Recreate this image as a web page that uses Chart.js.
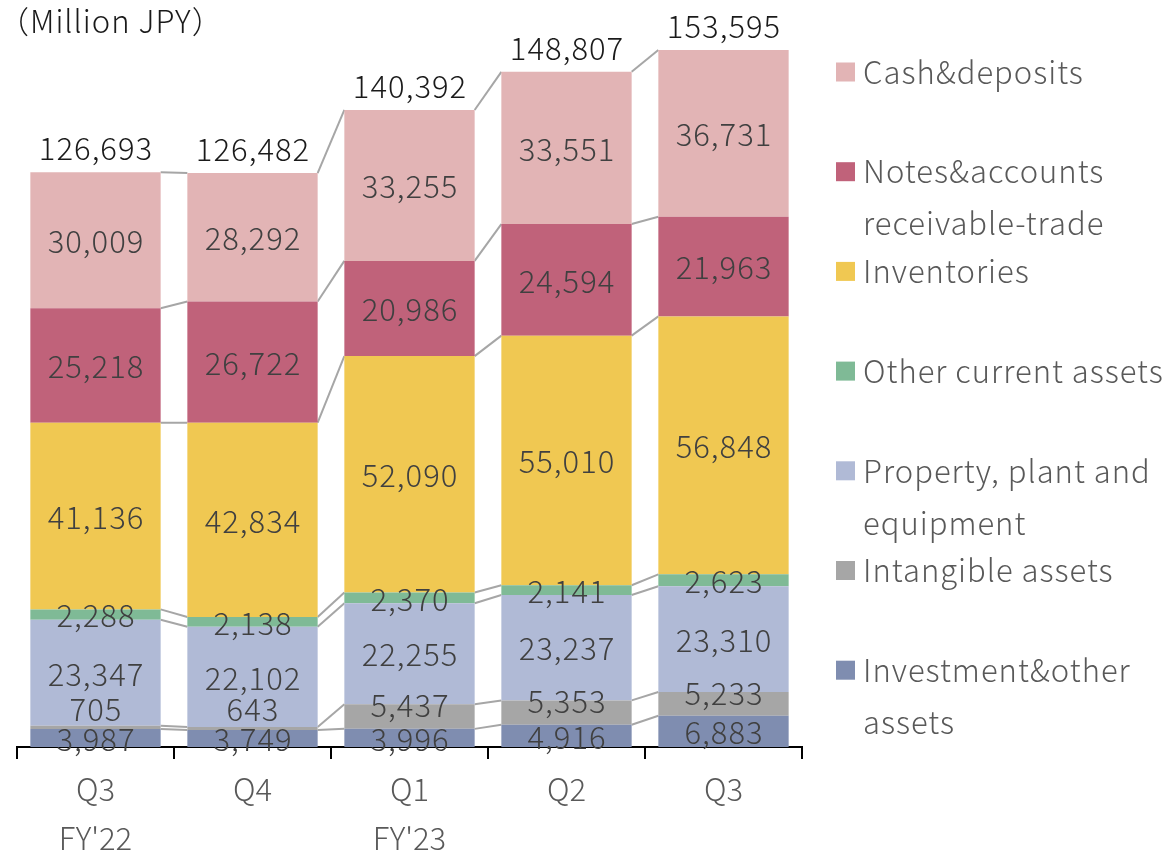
<!DOCTYPE html>
<html><head><meta charset="utf-8">
<script src="https://cdn.jsdelivr.net/npm/chart.js@4"></script>
<style>html,body{margin:0;padding:0;background:#fff}#wrap{width:1170px;height:854px;position:relative}</style>
</head><body><div id="wrap"><canvas id="c" width="1170" height="854"></canvas></div>
<script>
// ---- data ----
const quarters = ['Q3', 'Q4', 'Q1', 'Q2', 'Q3'];
const fiscalYears = ["FY'22", '', "FY'23", '', ''];
const investment = [3987, 3749, 3996, 4916, 6883];
const intangible = [705, 643, 5437, 5353, 5233];
const ppe = [23347, 22102, 22255, 23237, 23310];
const otherCurrent = [2288, 2138, 2370, 2141, 2623];
const inventories = [41136, 42834, 52090, 55010, 56848];
const receivables = [25218, 26722, 20986, 24594, 21963];
const cash = [30009, 28292, 33255, 33551, 36731];
const totals = [126693, 126482, 140392, 148807, 153595];
const unitLabel = '（Million JPY）';
const legendNames = [
  ['Cash&deposits'],
  ['Notes&accounts', 'receivable-trade'],
  ['Inventories'],
  ['Other current assets'],
  ['Property, plant and', 'equipment'],
  ['Intangible assets'],
  ['Investment&other', 'assets']
];

// ---- style ----
const FONT = '"Noto Sans CJK JP", "Noto Sans", sans-serif';
const FW = '300 ';
const colors = {
  investment: '#7F8DB0', intangible: '#A6A6A6', ppe: '#B0BAD6', other: '#7FBA96',
  inventories: '#F0C852', receivables: '#C0627A', cash: '#E2B4B5'
};

const datasets = [
  {label: legendNames[6].join(' '), data: investment, backgroundColor: colors.investment},
  {label: legendNames[5].join(' '), data: intangible, backgroundColor: colors.intangible, labelMode: 'top'},
  {label: legendNames[4].join(' '), data: ppe, backgroundColor: colors.ppe},
  {label: legendNames[3].join(' '), data: otherCurrent, backgroundColor: colors.other},
  {label: legendNames[2].join(' '), data: inventories, backgroundColor: colors.inventories},
  {label: legendNames[1].join(' '), data: receivables, backgroundColor: colors.receivables},
  {label: legendNames[0].join(' '), data: cash, backgroundColor: colors.cash}
].map(d => Object.assign({barPercentage: 0.83, categoryPercentage: 1.0, borderWidth: 0}, d));

const fmt = v => v.toLocaleString('en-US');

const overlay = {
  id: 'overlay',
  beforeDatasetsDraw(chart) {
    const ctx = chart.ctx;
    ctx.save();
    ctx.strokeStyle = '#A6A6A6';
    ctx.lineWidth = 2;
    chart.data.datasets.forEach((ds, d) => {
      const meta = chart.getDatasetMeta(d);
      for (let i = 0; i < meta.data.length - 1; i++) {
        const a = meta.data[i], b = meta.data[i + 1];
        ctx.beginPath();
        ctx.moveTo(a.x + a.width / 2, a.y);
        ctx.lineTo(b.x - b.width / 2, b.y);
        ctx.stroke();
      }
    });
    ctx.restore();
  },
  afterDatasetsDraw(chart) {
    const ctx = chart.ctx;
    ctx.save();
    ctx.letterSpacing = '1px';
    ctx.textAlign = 'center';
    ctx.textBaseline = 'middle';
    ctx.font = FW + '31px ' + FONT;
    ctx.fillStyle = '#404040';
    const base = chart.getDatasetMeta(0);
    chart.data.datasets.forEach((ds, d) => {
      const meta = chart.getDatasetMeta(d);
      meta.data.forEach((el, i) => {
        let y = (el.y + el.base) / 2;
        if (ds.labelMode === 'top') {
          const b = base.data[i];
          y = Math.min(el.y, (b.y + b.base) / 2 - 30);
        }
        ctx.fillText(fmt(ds.data[i]), el.x + 0.5, y + 1);
      });
    });
    const top = chart.getDatasetMeta(chart.data.datasets.length - 1);
    ctx.fillStyle = '#1a1a1a';
    top.data.forEach((el, i) => {
      ctx.fillText(fmt(totals[i]), el.x + 0.5, el.y - 24);
    });
    ctx.restore();
  },
  afterDraw(chart) {
    const ctx = chart.ctx;
    ctx.save();
    ctx.letterSpacing = '1px';
    ctx.textBaseline = 'middle';
    ctx.textAlign = 'left';
    ctx.font = FW + '31px ' + FONT;
    ctx.fillStyle = '#1a1a1a';
    ctx.fillText(unitLabel, -2, 21);
    const legendColors = [colors.cash, colors.receivables, colors.inventories, colors.other, colors.ppe, colors.intangible, colors.investment];
    legendNames.forEach((lines, k) => {
      const y = 72 + k * 99.7;
      ctx.fillStyle = legendColors[k];
      ctx.fillRect(836, y - 9.5, 19, 19);
      ctx.fillStyle = '#595959';
      lines.forEach((t, j) => ctx.fillText(t, 863, y + j * 52));
    });
    ctx.restore();
  }
};

new Chart(document.getElementById('c'), {
  type: 'bar',
  data: {labels: quarters.map((q, i) => [q, fiscalYears[i]]), datasets},
  options: {
    responsive: false,
    animation: false,
    devicePixelRatio: 1,
    layout: {padding: {left: 17, right: 368, top: 21, bottom: 0}},
    plugins: {legend: {display: false}, tooltip: {enabled: false}, title: {display: false}},
    scales: {
      x: {
        stacked: true,
        offset: true,
        grid: {display: true, drawOnChartArea: false, drawTicks: true, tickLength: 12, color: '#000', lineWidth: 2, offset: true},
        border: {display: true, color: '#000', width: 2},
        ticks: {color: '#595959', font: {family: FONT, size: 31, weight: 300, lineHeight: 1.6}, padding: 5, maxRotation: 0},
        afterFit(s) { s.height = 107; }
      },
      y: {stacked: true, display: false, min: 0, max: 160000}
    }
  },
  plugins: [overlay]
});
</script>
</body></html>
